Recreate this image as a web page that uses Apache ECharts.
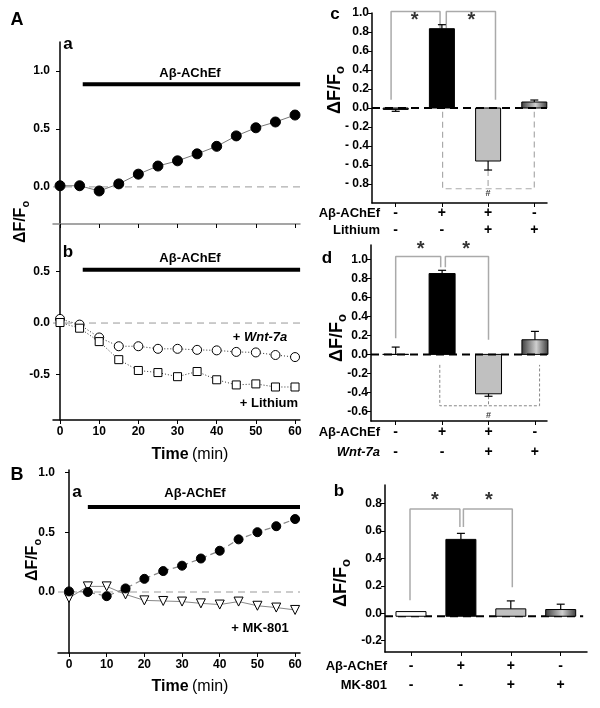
<!DOCTYPE html>
<html>
<head>
<meta charset="utf-8">
<script src="https://cdn.jsdelivr.net/npm/echarts@6/dist/echarts.min.js"></script>
<style>
  html, body { margin: 0; padding: 0; background: #fff; }
  #main { width: 600px; height: 708px; }
</style>
</head>
<body>
<div id="main"></div>
<script>
// time course data (min, dF/Fo)
var timeA = [0, 5, 10, 15, 20, 25, 30, 35, 40, 45, 50, 55, 60];
var aAbeta = [0.01, 0.01, -0.035, 0.026, 0.11, 0.18, 0.225, 0.285, 0.35, 0.44, 0.51, 0.56, 0.62];
var bWnt = [0.04, -0.015, -0.14, -0.225, -0.225, -0.25, -0.25, -0.26, -0.265, -0.28, -0.285, -0.31, -0.33];
var bLithium = [0.005, -0.05, -0.18, -0.355, -0.46, -0.48, -0.52, -0.47, -0.55, -0.6, -0.59, -0.62, -0.62];
var mkAbeta = [0.005, 0, -0.035, 0.03, 0.11, 0.175, 0.22, 0.28, 0.345, 0.44, 0.5, 0.55, 0.61];
var mkWith = [-0.05, 0.047, 0.047, -0.02, -0.07, -0.075, -0.08, -0.095, -0.105, -0.08, -0.115, -0.13, -0.15];

// bar panels: mean and error-bar end
var groups = [1, 2, 3, 4];
var cMean = [-0.015, 0.835, -0.558, 0.063];
var cErr = [-0.035, 0.877, -0.653, 0.084];
var dMean = [0, 0.85, -0.414, 0.154];
var dErr = [0.077, 0.884, -0.44, 0.242];
var mkMean = [0.012, 0.539, 0.032, 0.027];
var mkErr = [null, 0.583, 0.09, 0.066];

// +/- rows under the bar panels
var rowAbeta = ['-', '+', '+', '-'];
var rowTreat = ['-', '-', '+', '+'];

// tick labels
var timeTicks = [0, 10, 20, 30, 40, 50, 60];
var aTicks = [0, 0.5, 1];
var bTicks = [-0.5, 0, 0.5];
var mkTicks = [0, 0.5, 1];
var cTicks = [-0.8, -0.6, -0.4, -0.2, 0, 0.2, 0.4, 0.6, 0.8, 1];
var dTicks = [-0.6, -0.4, -0.2, 0, 0.2, 0.4, 0.6, 0.8, 1];
var mkBarTicks = [-0.2, 0, 0.2, 0.4, 0.6, 0.8];

// Abeta-AChEf application bar [start, end, level]
var treatA = [5.8, 61.3, 0.885];
var treatB = [5.8, 61.3, 0.516];
var treatMK = [5.0, 61.3, 0.71];

// significance brackets
var cBrL = [[0.9, 0.087], [0.9, 1.017], [1.96, 1.017], [1.96, 0.84]];
var cBrR = [[2.095, 0.84], [2.095, 1.017], [3.16, 1.017], [3.16, 0.087]];
var cHash = [[2.015, -0.04], [2.015, -0.85], [4.0, -0.85], [4.0, -0.04]];
var cHashMid = [[3, -0.653], [3, -0.85]];
var cStars = [[1.41, 0.92], [2.64, 0.92]];
var dBrL = [[1.0, 0.17], [1.0, 1.03], [1.97, 1.03], [1.97, 0.916]];
var dBrR = [[2.07, 0.916], [2.07, 1.03], [3.0, 1.03], [3.0, 0.155]];
var dHash = [[1.95, -0.11], [1.95, -0.54], [4.1, -0.54], [4.1, -0.11]];
var dHashMid = [[3, -0.44], [3, -0.54]];
var dStars = [[1.54, 1.1], [2.52, 1.1]];
var mkBrL = [[0.98, 0.095], [0.98, 0.76], [1.98, 0.76], [1.98, 0.63]];
var mkBrR = [[2.05, 0.63], [2.05, 0.76], [3.03, 0.76], [3.03, 0.19]];
var mkStars = [[1.48, 0.82], [2.56, 0.82]];
var mkBase = -0.022;

var FONT = '"Liberation Sans", Arial, sans-serif';

var myChart = echarts.init(document.getElementById('main'));

var pts = function(xs, ys){
  return xs.map(function(x, i){ return [x, ys[i]]; });
};

var grad = function(a, b){
  return { type: 'linear', x: 0, y: 0, x2: 1, y2: 0,
    colorStops: [{offset: 0, color: a}, {offset: 0.55, color: b}, {offset: 1, color: a}] };
};
var fills = ['#ffffff', '#000000', '#c0c0c0', grad('#3c3c3c', '#cfcfcf'), grad('#2a2a2a', '#8a8a8a')];

var barData = function(mean, err, colors){
  return groups.map(function(g, i){ return [g, mean[i], err[i] == null ? NaN : err[i], colors[i]]; });
};

var barSeries = function(idx, data, w, base){
  return {
    type: 'custom', xAxisIndex: idx, yAxisIndex: idx, data: data, z: 5,
    encode: {x: 0, y: 1},
    renderItem: function(params, api){
      var x = api.value(0), v = api.value(1), e = api.value(2);
      var p0 = api.coord([x, base]);
      var p1 = api.coord([x, v]);
      var kids = [{
        type: 'rect',
        shape: {x: p0[0] - w / 2, y: Math.min(p0[1], p1[1]), width: w, height: Math.abs(p1[1] - p0[1])},
        style: {fill: fills[api.value(3)], stroke: '#000', lineWidth: 1}
      }];
      if (!isNaN(e)) {
        var pe = api.coord([x, e]);
        kids.push({type: 'line', shape: {x1: p1[0], y1: p1[1], x2: pe[0], y2: pe[1]}, style: {stroke: '#000', lineWidth: 1.2}});
        kids.push({type: 'line', shape: {x1: pe[0] - 4, y1: pe[1], x2: pe[0] + 4, y2: pe[1]}, style: {stroke: '#000', lineWidth: 1.2}});
      }
      return {type: 'group', children: kids};
    }
  };
};

var lineSeries = function(idx, data, color, width, type, z){
  return {
    type: 'line', xAxisIndex: idx, yAxisIndex: idx, data: data, symbol: 'none',
    clip: false, silent: true, z: z || 2, animation: false,
    lineStyle: {color: color, width: width, type: type || 'solid'}
  };
};

var labelSeries = function(idx, data, text, size){
  return {
    type: 'scatter', xAxisIndex: idx, yAxisIndex: idx, data: data, symbolSize: 2,
    itemStyle: {color: 'rgba(0,0,0,0)'}, z: 6, silent: true,
    label: {show: true, position: 'inside', formatter: text, color: '#000',
      fontFamily: FONT, fontWeight: 'bold', fontSize: size}
  };
};

var fmt = function(spaced){
  return function(v){
    if (Math.abs(v) < 1e-9) return '0.0';
    if (v < 0) return (spaced ? '- ' : '-') + Math.abs(v).toFixed(1);
    return v.toFixed(1);
  };
};

var yAxisOf = function(idx, min, max, ticks, spaced){
  return {
    type: 'value', gridIndex: idx, min: min, max: max,
    splitLine: {show: false},
    axisLine: {show: true, lineStyle: {color: '#000', width: 1.5}},
    axisTick: {show: true, length: 4, customValues: ticks, lineStyle: {color: '#000', width: 1}},
    axisLabel: {customValues: ticks, formatter: fmt(spaced), color: '#000', margin: 3,
      fontFamily: FONT, fontWeight: 'bold', fontSize: 12}
  };
};

var timeAxis = function(idx, min, max, showLabels, lineColor){
  return {
    type: 'value', gridIndex: idx, min: min, max: max,
    splitLine: {show: false},
    axisLine: {show: true, onZero: false, lineStyle: {color: lineColor, width: 1.5}},
    axisTick: {show: true, length: 4, customValues: timeTicks, lineStyle: {color: '#000', width: 1}},
    axisLabel: {show: showLabels, customValues: timeTicks, color: '#000', margin: 6,
      fontFamily: FONT, fontWeight: 'bold', fontSize: 12}
  };
};

var groupAxis = function(idx, min, max, lh, margin){
  return {
    type: 'value', gridIndex: idx, min: min, max: max,
    splitLine: {show: false},
    axisLine: {show: true, onZero: false, lineStyle: {color: '#000', width: 1.5}},
    axisTick: {show: true, length: 4, customValues: groups, lineStyle: {color: '#000', width: 1}},
    axisLabel: {customValues: groups, margin: margin, color: '#000', lineHeight: lh,
      fontFamily: FONT, fontWeight: 'bold', fontSize: 14,
      formatter: function(v){ var i = Math.round(v) - 1; return rowAbeta[i] + '\n' + rowTreat[i]; }}
  };
};

var txt = function(x, y, s, size, align, style){
  return {type: 'text', x: x, y: y, z: 10, style: {text: s, fill: '#000', align: align || 'center',
    verticalAlign: 'middle', font: (style || 'bold') + ' ' + size + 'px ' + FONT}};
};

var richTxt = function(x, y, s, rich, rot){
  return {type: 'text', x: x, y: y, rotation: rot || 0, z: 10,
    style: {text: s, rich: rich, fill: '#000', align: 'center', verticalAlign: 'middle'}};
};

var dfRich = function(size){
  return {
    a: {fontFamily: FONT, fontWeight: 'bold', fontSize: size, fill: '#000'},
    s: {fontFamily: FONT, fontWeight: 'bold', fontSize: Math.round(size * 0.7), fill: '#000',
      padding: [Math.round(size * 0.55), 0, 0, 0]}
  };
};
var timeRich = {
  b: {fontFamily: FONT, fontWeight: 'bold', fontSize: 16, fill: '#000'},
  n: {fontFamily: FONT, fontWeight: 'normal', fontSize: 16, fill: '#000'}
};
var dfLabel = function(x, y, size){ return richTxt(x, y, '{a|ΔF/F}{s|o}', dfRich(size || 16), Math.PI / 2); };

option = {
  animation: false,
  backgroundColor: '#fff',
  grid: [
    {left: 53, top: 42, width: 247, height: 182},
    {left: 53, top: 224, width: 247, height: 196},
    {left: 58, top: 470, width: 242, height: 183},
    {left: 372, top: 13, width: 175, height: 190},
    {left: 371, top: 245, width: 176, height: 176},
    {left: 385, top: 485, width: 202, height: 167}
  ],
  xAxis: [
    timeAxis(0, -1.79, 61.27, false, '#888'),
    timeAxis(1, -1.79, 61.27, true, '#000'),
    timeAxis(2, -2.92, 61.3, true, '#000'),
    groupAxis(3, 0.487, 4.275, 17, 2),
    groupAxis(4, 0.468, 4.26, 20, 1),
    groupAxis(5, 0.479, 4.527, 19, 5)
  ],
  yAxis: [
    yAxisOf(0, -0.32, 1.25, aTicks),
    yAxisOf(1, -0.94, 0.96, bTicks),
    yAxisOf(2, -0.51, 1.02, mkTicks),
    yAxisOf(3, -1, 1, cTicks, true),
    yAxisOf(4, -0.7, 1.15, dTicks),
    yAxisOf(5, -0.283, 0.936, mkBarTicks)
  ],
  series: [
    // A a
    lineSeries(0, [[-1.79, 0], [61.27, 0]], '#999', 1, [7, 5], 1),
    lineSeries(0, [[treatA[0], treatA[2]], [treatA[1], treatA[2]]], '#000', 4),
    {type: 'line', xAxisIndex: 0, yAxisIndex: 0, data: pts(timeA, aAbeta), symbol: 'circle', symbolSize: 10,
      lineStyle: {color: '#777', width: 1}, itemStyle: {color: '#000', borderColor: '#000'}, z: 4},
    // A b
    lineSeries(1, [[-1.79, 0], [61.27, 0]], '#999', 1, [7, 5], 1),
    lineSeries(1, [[treatB[0], treatB[2]], [treatB[1], treatB[2]]], '#000', 4),
    {type: 'line', xAxisIndex: 1, yAxisIndex: 1, data: pts(timeA, bWnt), symbol: 'circle', symbolSize: 9,
      lineStyle: {color: '#333', width: 1, type: [1, 2]}, itemStyle: {color: '#fff', borderColor: '#000', borderWidth: 1}, z: 4},
    {type: 'line', xAxisIndex: 1, yAxisIndex: 1, data: pts(timeA, bLithium), symbol: 'rect', symbolSize: 8,
      lineStyle: {color: '#333', width: 1, type: [1, 2]}, itemStyle: {color: '#fff', borderColor: '#000', borderWidth: 1}, z: 4},
    // B a
    lineSeries(2, [[-2.92, 0], [61.3, 0]], '#999', 1, [7, 5], 1),
    lineSeries(2, [[treatMK[0], treatMK[2]], [treatMK[1], treatMK[2]]], '#000', 4),
    {type: 'line', xAxisIndex: 2, yAxisIndex: 2, data: pts(timeA, mkWith), symbol: 'triangle', symbolSize: 9, symbolRotate: 180,
      lineStyle: {color: '#888', width: 1}, itemStyle: {color: '#fff', borderColor: '#000', borderWidth: 1}, z: 4},
    {type: 'line', xAxisIndex: 2, yAxisIndex: 2, data: pts(timeA, mkAbeta), symbol: 'circle', symbolSize: 9,
      lineStyle: {color: '#888', width: 1.2, type: [6, 4]}, itemStyle: {color: '#000', borderColor: '#000'}, z: 4},
    // c
    lineSeries(3, [[0.487, 0], [4.275, 0]], '#000', 2, [8, 5], 6),
    barSeries(3, barData(cMean, cErr, [4, 1, 2, 3]), 25, 0),
    lineSeries(3, cBrL, '#aaa', 1.5),
    lineSeries(3, cBrR, '#aaa', 1.5),
    lineSeries(3, cHash, '#aaa', 1.2, [6, 4]),
    lineSeries(3, cHashMid, '#aaa', 1.2, [6, 4]),
    labelSeries(3, cStars, '*', 20),
    labelSeries(3, [[3, -0.9]], '#', 9),
    // d
    lineSeries(4, [[0.468, 0], [4.26, 0]], '#000', 2, [8, 5], 6),
    barSeries(4, barData(dMean, dErr, [0, 1, 2, 3]), 26, 0),
    lineSeries(4, dBrL, '#aaa', 1.5),
    lineSeries(4, dBrR, '#aaa', 1.5),
    lineSeries(4, dHash, '#888', 1, [3, 2]),
    lineSeries(4, dHashMid, '#888', 1, [3, 2]),
    labelSeries(4, dStars, '*', 20),
    labelSeries(4, [[3, -0.64]], '#', 9),
    // B b
    lineSeries(5, [[0.479, mkBase], [4.45, mkBase]], '#000', 2, [8, 5], 4),
    barSeries(5, barData(mkMean, mkErr, [0, 1, 2, 3]), 30, mkBase),
    lineSeries(5, mkBrL, '#aaa', 1.5),
    lineSeries(5, mkBrR, '#aaa', 1.5),
    labelSeries(5, mkStars, '*', 20)
  ],
  graphic: [
    txt(17, 20, 'A', 18),
    txt(68, 44, 'a', 17),
    txt(190, 73, 'Aβ-AChEf', 13),
    dfLabel(21, 222),
    txt(68, 252, 'b', 17),
    txt(190, 258, 'Aβ-AChEf', 13),
    richTxt(260, 337, '{b|+ }{i|Wnt-7a}', {
      b: {fontFamily: FONT, fontWeight: 'bold', fontSize: 13, fill: '#000'},
      i: {fontFamily: FONT, fontWeight: 'bold', fontStyle: 'italic', fontSize: 13, fill: '#000'}}),
    txt(298, 403, '+ Lithium', 13, 'right'),
    richTxt(190, 455, '{b|Time} {n|(min)}', timeRich),
    txt(17, 475, 'B', 18),
    txt(77, 492, 'a', 17),
    txt(195, 493, 'Aβ-AChEf', 13),
    txt(260, 628, '+ MK-801', 13),
    dfLabel(33, 560),
    richTxt(190, 687, '{b|Time} {n|(min)}', timeRich),
    txt(335, 14, 'c', 17),
    dfLabel(335, 90, 18),
    txt(380, 213, 'Aβ-AChEf', 13, 'right'),
    txt(380, 230, 'Lithium', 13, 'right'),
    txt(327, 258, 'd', 17),
    dfLabel(337, 338, 18),
    txt(380, 432, 'Aβ-AChEf', 13, 'right'),
    txt(380, 452, 'Wnt-7a', 13, 'right', 'italic bold'),
    txt(339, 491, 'b', 17),
    dfLabel(341, 583, 18),
    txt(387, 666, 'Aβ-AChEf', 13, 'right'),
    txt(387, 685, 'MK-801', 13, 'right')
  ]
};

myChart.setOption(option);
</script>
</body>
</html>
